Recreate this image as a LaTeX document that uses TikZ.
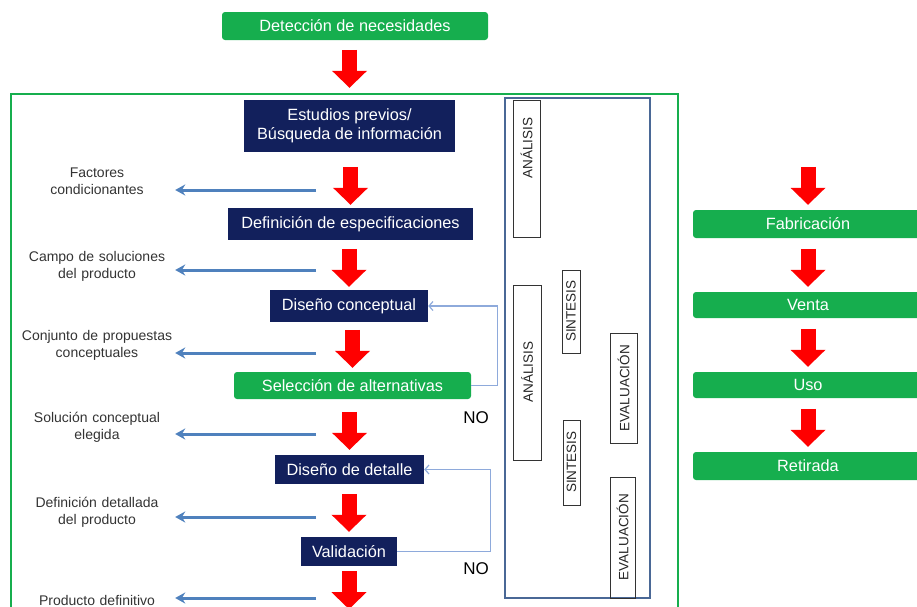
\documentclass[tikz,border=0pt]{standalone}
\usepackage{fontspec}
\setmainfont{Liberation Sans}
\usepackage{tikz}
\usetikzlibrary{arrows.meta}

\definecolor{navyfill}{HTML}{12205C}
\definecolor{stepgreen}{HTML}{16AE4E}
\definecolor{arrowred}{HTML}{FF0000}
\definecolor{outblue}{HTML}{4F81BD}
\definecolor{loopblue}{HTML}{8EAADB}
\definecolor{panelblue}{HTML}{4A6896}
\definecolor{labelgray}{HTML}{333333}

\begin{document}
\begin{tikzpicture}[
    x=1pt,
    y=-1pt,
    every node/.style={font=\fontsize{16.3}{19}\selectfont},
    navybox/.style={fill=navyfill, text=white, inner sep=0pt, align=center},
    greenbox/.style={fill=stepgreen, text=white, rounded corners=3pt, inner sep=0pt},
    sidelabel/.style={font=\fontsize{14}{17}\selectfont, text=labelgray, align=center, text width=156pt, inner sep=0pt},
    bigarrow/.style={draw=arrowred, line width=15pt, -{Triangle[length=17pt, width=34pt]}},
    outarrow/.style={draw=outblue, line width=3pt, -{Stealth[length=10pt, width=11pt]}},
    loopline/.style={draw=loopblue, line width=1.2pt, -{Straight Barb[length=4pt, width=9pt]}},
    frame/.style={draw=stepgreen, line width=2pt},
    panel/.style={draw=panelblue, line width=1.5pt},
    phase/.style={draw=black!80, line width=1pt},
    phasetext/.style={font=\fontsize{13.5}{15}\selectfont, rotate=90, text=black!85, inner sep=0pt},
    notext/.style={font=\fontsize{17}{20}\selectfont}
  ]
    \useasboundingbox (0,0) rectangle (917,606);
    \clip (0,0) rectangle (917,606);

    % frames
    \draw[frame] (11,94) rectangle (678,640);
    \draw[panel] (505,98) rectangle (650,598);

    % main column
    \node[greenbox, minimum width=266pt, minimum height=28pt] (det) at (355,26) {Detección de necesidades};
    \node[navybox, minimum width=211pt, minimum height=52pt] (est) at (349.5,126) {Estudios previos/\\Búsqueda de información};
    \node[navybox, minimum width=245pt, minimum height=32pt] (def) at (350.5,224) {Definición de especificaciones};
    \node[navybox, minimum width=158pt, minimum height=32pt] (dc) at (349,306) {Diseño conceptual};
    \node[greenbox, minimum width=237pt, minimum height=27pt] (sel) at (352.5,385.5) {Selección de alternativas};
    \node[navybox, minimum width=149pt, minimum height=29pt] (dd) at (349.5,469.5) {Diseño de detalle};
    \node[navybox, minimum width=96pt, minimum height=29pt] (val) at (349,551.5) {Validación};

    % right column
    \node[greenbox, minimum width=230pt, minimum height=28pt] (fab) at (808,224) {Fabricación};
    \node[greenbox, minimum width=230pt, minimum height=26pt] (venta) at (808,305) {Venta};
    \node[greenbox, minimum width=230pt, minimum height=26pt] (uso) at (808,385) {Uso};
    \node[greenbox, minimum width=230pt, minimum height=28pt] (ret) at (808,466) {Retirada};

    \foreach \n/\g in {est/12, def/3, dc/3, sel/4, dd/5, val/5, fab/5, venta/5, uso/5, ret/5}
      \draw[bigarrow] ([yshift=\g pt+38pt]\n.north) -- ([yshift=\g pt]\n.north);
    \draw[bigarrow] ([yshift=-5pt]val.south) -- ++(0,38);

    % outputs on the left
    \node[sidelabel] (f1) at (97,181) {Factores\\condicionantes};
    \node[sidelabel] (f2) at (97,266) {Campo de soluciones\\del producto};
    \node[sidelabel] (f3) at (97,345) {Conjunto de propuestas\\conceptuales};
    \node[sidelabel] (f4) at (97,427) {Solución conceptual\\elegida};
    \node[sidelabel] (f5) at (97,512) {Definición detallada\\del producto};
    \node[sidelabel] (f6) at (97,600) {Producto definitivo};

    \foreach \l/\y in {f1/190, f2/270, f3/353, f4/434, f5/517, f6/598} {
      \coordinate (o\l) at (316,\y);
      \draw[outarrow] (o\l) -- (o\l -| \l.east);
    }

    % feedback loops
    \draw[loopline] (sel.east) -- ++(26,0) |- (dc.east);
    \draw[loopline] (val.east) -- ++(93,0) |- (dd.east);
    \node[notext] (no1) at (476,418) {NO};
    \node[notext] (no2) at (476,569) {NO};

    % phases
    \draw[phase] (513,100) rectangle (540,237);
    \draw[phase] (513,285) rectangle (541,460);
    \draw[phase] (562,270) rectangle (580,353);
    \draw[phase] (610,333) rectangle (637,443);
    \draw[phase] (563,420) rectangle (580,505);
    \draw[phase] (610,477) rectangle (635,598);
    \node[phasetext] (an1) at (526.5,148) {ANÁLISIS};
    \node[phasetext] (an2) at (527,372) {ANÁLISIS};
    \node[phasetext] (si1) at (571,311) {SINTESIS};
    \node[phasetext] (ev1) at (623.5,388) {EVALUACIÓN};
    \node[phasetext] (si2) at (571.5,462) {SINTESIS};
    \node[phasetext] (ev2) at (622.5,537) {EVALUACIÓN};
  \end{tikzpicture}
\end{document}
